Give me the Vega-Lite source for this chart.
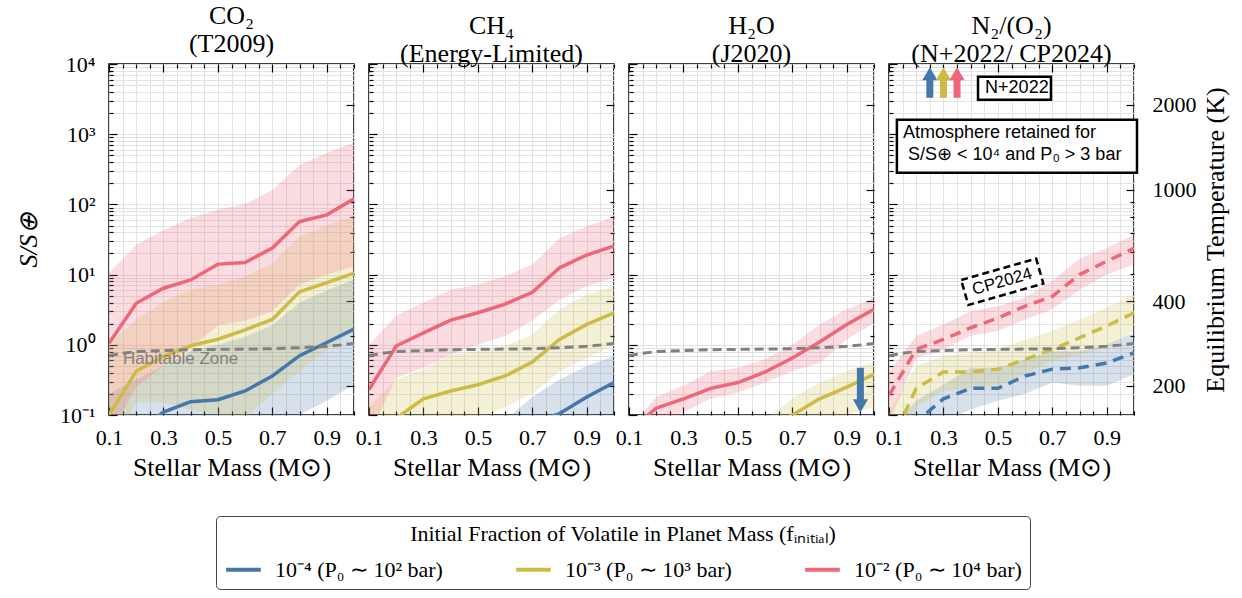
{
"$schema": "https://vega.github.io/schema/vega-lite/v6.json",
"background": "white",
"padding": {"left": 14, "right": 10, "top": 2, "bottom": 5},
"spacing": 15,
"bounds": "flush",
"datasets": {
"co2": [
{"f":"1e-4","m":0.1,"lo":0.03,"mid":0.03,"hi":0.2},{"f":"1e-4","m":0.2,"lo":0.03,"mid":0.055,"hi":0.32},{"f":"1e-4","m":0.3,"lo":0.03,"mid":0.11,"hi":0.5},{"f":"1e-4","m":0.4,"lo":0.03,"mid":0.155,"hi":0.8},{"f":"1e-4","m":0.5,"lo":0.04,"mid":0.165,"hi":1.0},{"f":"1e-4","m":0.6,"lo":0.05,"mid":0.22,"hi":1.3},{"f":"1e-4","m":0.7,"lo":0.07,"mid":0.36,"hi":1.9},{"f":"1e-4","m":0.8,"lo":0.1,"mid":0.7,"hi":4.0},{"f":"1e-4","m":0.9,"lo":0.16,"mid":1.08,"hi":6.0},{"f":"1e-4","m":1.0,"lo":0.27,"mid":1.68,"hi":8.5},
{"f":"1e-3","m":0.1,"lo":0.03,"mid":0.1,"hi":1.0},{"f":"1e-3","m":0.2,"lo":0.15,"mid":0.42,"hi":2.3},{"f":"1e-3","m":0.3,"lo":0.15,"mid":0.68,"hi":4.1},{"f":"1e-3","m":0.4,"lo":0.12,"mid":0.97,"hi":6.1},{"f":"1e-3","m":0.5,"lo":0.1,"mid":1.2,"hi":7.1},{"f":"1e-3","m":0.6,"lo":0.09,"mid":1.63,"hi":9.4},{"f":"1e-3","m":0.7,"lo":0.2,"mid":2.3,"hi":14.5},{"f":"1e-3","m":0.8,"lo":0.42,"mid":5.7,"hi":35},{"f":"1e-3","m":0.9,"lo":0.85,"mid":7.7,"hi":50},{"f":"1e-3","m":1.0,"lo":1.55,"mid":10.5,"hi":69},
{"f":"1e-2","m":0.1,"lo":0.05,"mid":1.05,"hi":10.5},{"f":"1e-2","m":0.2,"lo":0.25,"mid":3.9,"hi":26.6},{"f":"1e-2","m":0.3,"lo":0.5,"mid":6.4,"hi":43},{"f":"1e-2","m":0.4,"lo":0.9,"mid":8.4,"hi":64},{"f":"1e-2","m":0.5,"lo":1.9,"mid":14.1,"hi":84},{"f":"1e-2","m":0.6,"lo":2.2,"mid":14.9,"hi":101},{"f":"1e-2","m":0.7,"lo":3.0,"mid":23.9,"hi":161},{"f":"1e-2","m":0.8,"lo":7.2,"mid":57,"hi":365},{"f":"1e-2","m":0.9,"lo":10,"mid":71,"hi":540},{"f":"1e-2","m":1.0,"lo":13,"mid":120,"hi":760}
],
"ch4": [
{"f":"1e-4","m":0.5,"lo":0.03,"mid":0.03,"hi":0.07},{"f":"1e-4","m":0.6,"lo":0.03,"mid":0.055,"hi":0.085},{"f":"1e-4","m":0.7,"lo":0.03,"mid":0.075,"hi":0.18},{"f":"1e-4","m":0.8,"lo":0.03,"mid":0.105,"hi":0.32},{"f":"1e-4","m":0.9,"lo":0.04,"mid":0.18,"hi":0.5},{"f":"1e-4","m":1.0,"lo":0.06,"mid":0.29,"hi":0.69},
{"f":"1e-3","m":0.1,"lo":0.03,"mid":0.05,"hi":0.13},{"f":"1e-3","m":0.2,"lo":0.03,"mid":0.09,"hi":0.32},{"f":"1e-3","m":0.3,"lo":0.05,"mid":0.17,"hi":0.45},{"f":"1e-3","m":0.4,"lo":0.07,"mid":0.22,"hi":0.73},{"f":"1e-3","m":0.5,"lo":0.09,"mid":0.27,"hi":0.81},{"f":"1e-3","m":0.6,"lo":0.13,"mid":0.36,"hi":0.96},{"f":"1e-3","m":0.7,"lo":0.2,"mid":0.57,"hi":1.4},{"f":"1e-3","m":0.8,"lo":0.42,"mid":1.19,"hi":3.2},{"f":"1e-3","m":0.9,"lo":0.65,"mid":1.95,"hi":5.2},{"f":"1e-3","m":1.0,"lo":1.0,"mid":2.86,"hi":6.9},
{"f":"1e-2","m":0.1,"lo":0.05,"mid":0.23,"hi":1.0},{"f":"1e-2","m":0.2,"lo":0.34,"mid":0.96,"hi":2.6},{"f":"1e-2","m":0.3,"lo":0.47,"mid":1.48,"hi":4.0},{"f":"1e-2","m":0.4,"lo":0.73,"mid":2.25,"hi":6.1},{"f":"1e-2","m":0.5,"lo":1.0,"mid":2.86,"hi":7.2},{"f":"1e-2","m":0.6,"lo":1.33,"mid":3.8,"hi":9.5},{"f":"1e-2","m":0.7,"lo":2.2,"mid":5.6,"hi":13.9},{"f":"1e-2","m":0.8,"lo":4.4,"mid":12.5,"hi":33},{"f":"1e-2","m":0.9,"lo":6.9,"mid":19,"hi":49},{"f":"1e-2","m":1.0,"lo":9.0,"mid":25.6,"hi":66}
],
"h2o": [
{"f":"1e-3","m":0.5,"lo":0.03,"mid":0.03,"hi":0.055},{"f":"1e-3","m":0.6,"lo":0.03,"mid":0.06,"hi":0.085},{"f":"1e-3","m":0.7,"lo":0.04,"mid":0.1,"hi":0.17},{"f":"1e-3","m":0.8,"lo":0.07,"mid":0.17,"hi":0.29},{"f":"1e-3","m":0.9,"lo":0.1,"mid":0.25,"hi":0.42},{"f":"1e-3","m":1.0,"lo":0.13,"mid":0.38,"hi":0.58},
{"f":"1e-2","m":0.1,"lo":0.03,"mid":0.06,"hi":0.065},{"f":"1e-2","m":0.2,"lo":0.07,"mid":0.125,"hi":0.18},{"f":"1e-2","m":0.3,"lo":0.11,"mid":0.17,"hi":0.26},{"f":"1e-2","m":0.4,"lo":0.17,"mid":0.24,"hi":0.42},{"f":"1e-2","m":0.5,"lo":0.21,"mid":0.29,"hi":0.47},{"f":"1e-2","m":0.6,"lo":0.29,"mid":0.41,"hi":0.62},{"f":"1e-2","m":0.7,"lo":0.42,"mid":0.65,"hi":1.0},{"f":"1e-2","m":0.8,"lo":0.55,"mid":1.1,"hi":1.95},{"f":"1e-2","m":0.9,"lo":1.19,"mid":1.95,"hi":3.2},{"f":"1e-2","m":1.0,"lo":2.06,"mid":3.2,"hi":4.6}
],
"n2": [
{"f":"1e-4","m":0.1,"lo":0.03,"mid":0.03,"hi":0.06},{"f":"1e-4","m":0.2,"lo":0.04,"mid":0.08,"hi":0.16},{"f":"1e-4","m":0.3,"lo":0.08,"mid":0.17,"hi":0.27},{"f":"1e-4","m":0.4,"lo":0.12,"mid":0.24,"hi":0.47},{"f":"1e-4","m":0.5,"lo":0.16,"mid":0.24,"hi":0.47},{"f":"1e-4","m":0.6,"lo":0.2,"mid":0.36,"hi":0.62},{"f":"1e-4","m":0.7,"lo":0.29,"mid":0.45,"hi":0.81},{"f":"1e-4","m":0.8,"lo":0.26,"mid":0.47,"hi":0.81},{"f":"1e-4","m":0.9,"lo":0.26,"mid":0.55,"hi":1.0},{"f":"1e-4","m":1.0,"lo":0.38,"mid":0.77,"hi":1.48},
{"f":"1e-3","m":0.1,"lo":0.03,"mid":0.035,"hi":0.11},{"f":"1e-3","m":0.2,"lo":0.13,"mid":0.24,"hi":0.5},{"f":"1e-3","m":0.3,"lo":0.22,"mid":0.41,"hi":0.69},{"f":"1e-3","m":0.4,"lo":0.24,"mid":0.41,"hi":0.77},{"f":"1e-3","m":0.5,"lo":0.27,"mid":0.45,"hi":0.86},{"f":"1e-3","m":0.6,"lo":0.38,"mid":0.62,"hi":1.19},{"f":"1e-3","m":0.7,"lo":0.59,"mid":0.86,"hi":1.57},{"f":"1e-3","m":0.8,"lo":0.73,"mid":1.26,"hi":2.3},{"f":"1e-3","m":0.9,"lo":0.91,"mid":1.85,"hi":3.4},{"f":"1e-3","m":1.0,"lo":1.57,"mid":2.86,"hi":5.2},
{"f":"1e-2","m":0.1,"lo":0.08,"mid":0.19,"hi":0.42},{"f":"1e-2","m":0.2,"lo":0.65,"mid":0.86,"hi":1.33},{"f":"1e-2","m":0.3,"lo":0.86,"mid":1.19,"hi":1.95},{"f":"1e-2","m":0.4,"lo":1.33,"mid":1.75,"hi":3.0},{"f":"1e-2","m":0.5,"lo":1.57,"mid":2.4,"hi":3.55},{"f":"1e-2","m":0.6,"lo":2.3,"mid":3.55,"hi":4.7},{"f":"1e-2","m":0.7,"lo":3.2,"mid":4.9,"hi":8.1},{"f":"1e-2","m":0.8,"lo":6.1,"mid":10,"hi":17},{"f":"1e-2","m":0.9,"lo":10,"mid":15.5,"hi":24},{"f":"1e-2","m":1.0,"lo":13.9,"mid":23.6,"hi":37}
],
"hz": [{"m":0.1,"s":0.7},{"m":0.15,"s":0.76},{"m":0.2,"s":0.8},{"m":0.3,"s":0.83},{"m":0.4,"s":0.85},{"m":0.5,"s":0.86},{"m":0.6,"s":0.87},{"m":0.7,"s":0.88},{"m":0.8,"s":0.91},{"m":0.9,"s":0.95},{"m":1.0,"s":1.04}],
"hzlabel": [{"m":0.151,"s":0.62,"label":"Habitable Zone"}],
"teq": [{"T":200},{"T":2000}],
"h2oarrow": [{"m":0.95,"f":"1e-4","s0":0.47,"s1":0.16,"sh":0.135}],
"n2arrow": [{"m":0.25,"f":"1e-4","s0":3300,"s1":6000,"sh":7250},{"m":0.3,"f":"1e-3","s0":3300,"s1":6000,"sh":7250},{"m":0.35,"f":"1e-2","s0":3300,"s1":6000,"sh":7250}],
"n2box": [{"x1":0.427,"x2":0.695,"y1":3090,"y2":6580},{"x1":0.129,"x2":1.011,"y1":282,"y2":1603}],
"n2text": [{"m":0.453,"s":4500,"label":"N+2022"},{"m":0.151,"s":1050,"label":"Atmosphere retained for"},{"m":0.17,"s":509,"label":"S/S⊕ < 10⁴ and P₀ > 3 bar"}],
"cpbox": [{"m":0.516,"s":7.9,"label":"CP2024"}]
},
"hconcat": [
{
"width": 245, "height": 351,
"title": {"text": ["CO₂", "(T2009)"]},
"layer": [
{"data": {"name": "co2"}, "mark": {"type": "area", "clip": true, "opacity": 0.22},
 "encoding": {
  "x": {"field": "m", "type": "quantitative", "scale": {"domain": [0.1, 1], "nice": false, "zero": false},
   "axis": {"orient": "bottom", "values": [0.1,0.15,0.2,0.25,0.3,0.35,0.4,0.45,0.5,0.55,0.6,0.65,0.7,0.75,0.8,0.85,0.9,0.95,1],
    "labelExpr": "indexof([0.1,0.3,0.5,0.7,0.9], datum.value) >= 0 ? format(datum.value, '.1f') : ''",
    "tickSize": {"condition": {"test": "indexof([0.1,0.3,0.5,0.7,0.9], datum.value) >= 0", "value": -8}, "value": -4},
    "grid": true, "labelPadding": 20, "title": "Stellar Mass (M⊙)", "titleFontSize": 26, "titlePadding": 2}},
  "y": {"field": "lo", "type": "quantitative", "scale": {"type": "log", "domain": [0.1, 10000], "nice": false},
   "axis": {"orient": "left", "values": [0.1,0.2,0.3,0.4,0.5,0.6,0.7,0.8,0.9,1,2,3,4,5,6,7,8,9,10,20,30,40,50,60,70,80,90,100,200,300,400,500,600,700,800,900,1000,2000,3000,4000,5000,6000,7000,8000,9000,10000],
    "labelExpr": "datum.value == 0.1 ? '10⁻¹' : datum.value == 1 ? '10⁰' : datum.value == 10 ? '10¹' : datum.value == 100 ? '10²' : datum.value == 1000 ? '10³' : datum.value == 10000 ? '10⁴' : ''",
    "tickSize": {"condition": {"test": "indexof([0.1,1,10,100,1000,10000], datum.value) >= 0", "value": -8}, "value": -4},
    "grid": true, "labelPadding": 22, "title": "S/S⊕", "titleFontStyle": "italic", "titleFontSize": 26, "titlePadding": 18}},
  "y2": {"field": "hi"},
  "fill": {"field": "f", "type": "nominal", "scale": {"domain": ["1e-2","1e-3","1e-4"], "range": ["#EE6677","#CCBB44","#4477AA"]}, "legend": null}
 }},
{"data": {"name": "co2"}, "mark": {"type": "line", "clip": true, "strokeWidth": 3.5},
 "encoding": {
  "x": {"field": "m", "type": "quantitative", "scale": {"domain": [0.1, 1], "nice": false, "zero": false}, "axis": null},
  "y": {"field": "mid", "type": "quantitative", "scale": {"type": "log", "domain": [0.1, 10000], "nice": false}, "axis": null},
  "color": {"field": "f", "type": "nominal", "scale": {"domain": ["1e-4","1e-3","1e-2"], "range": ["#4477AA","#CCBB44","#EE6677"]},
   "legend": {"orient": "none", "legendX": 107, "legendY": 452, "direction": "horizontal", "columns": 3,
    "title": "Initial Fraction of Volatile in Planet Mass (fᵢₙᵢₜᵢₐₗ)",
    "labelExpr": "datum.value == '1e-4' ? '10⁻⁴ (P₀ ∼ 10² bar)' : datum.value == '1e-3' ? '10⁻³ (P₀ ∼ 10³ bar)' : '10⁻² (P₀ ∼ 10⁴ bar)'"}}
 }},
{"data": {"name": "hz"}, "mark": {"type": "line", "clip": true, "color": "#808080", "strokeWidth": 3, "strokeDash": [9, 5]},
 "encoding": {
  "x": {"field": "m", "type": "quantitative", "scale": {"domain": [0.1, 1], "nice": false, "zero": false},
   "axis": {"orient": "top", "values": [0.1,0.15,0.2,0.25,0.3,0.35,0.4,0.45,0.5,0.55,0.6,0.65,0.7,0.75,0.8,0.85,0.9,0.95,1], "labels": false, "grid": false, "title": null,
    "tickSize": {"condition": {"test": "indexof([0.1,0.3,0.5,0.7,0.9], datum.value) >= 0", "value": -8}, "value": -4}}},
  "y": {"field": "s", "type": "quantitative", "scale": {"type": "log", "domain": [0.1, 10000], "nice": false}, "axis": null}
 }},
{"data": {"name": "hzlabel"}, "mark": {"type": "text", "align": "left", "baseline": "middle", "font": "Liberation Sans", "fontSize": 17, "color": "#808080"},
 "encoding": {
  "x": {"field": "m", "type": "quantitative", "scale": {"domain": [0.1, 1], "nice": false, "zero": false}, "axis": null},
  "y": {"field": "s", "type": "quantitative", "scale": {"type": "log", "domain": [0.1, 10000], "nice": false}, "axis": null},
  "text": {"field": "label"}
 }},
{"data": {"name": "teq"}, "mark": {"type": "point", "opacity": 0},
 "encoding": {
  "y": {"field": "T", "type": "quantitative", "scale": {"type": "log", "domain": [157.4, 2799], "nice": false},
   "axis": {"orient": "right", "values": [200,300,400,500,600,700,800,900,1000,2000], "labels": false, "grid": false, "title": null,
    "tickSize": {"condition": {"test": "indexof([200,400,1000,2000], datum.value) >= 0", "value": -8}, "value": -4}}}
 }}
],
"resolve": {"scale": {"y": "independent"}, "axis": {"x": "independent", "y": "independent"}}
},
{
"width": 245, "height": 351,
"title": {"text": ["CH₄", "(Energy-Limited)"]},
"layer": [
{"data": {"name": "ch4"}, "mark": {"type": "area", "clip": true, "opacity": 0.22},
 "encoding": {
  "x": {"field": "m", "type": "quantitative", "scale": {"domain": [0.1, 1], "nice": false, "zero": false},
   "axis": {"orient": "bottom", "values": [0.1,0.15,0.2,0.25,0.3,0.35,0.4,0.45,0.5,0.55,0.6,0.65,0.7,0.75,0.8,0.85,0.9,0.95,1],
    "labelExpr": "indexof([0.1,0.3,0.5,0.7,0.9], datum.value) >= 0 ? format(datum.value, '.1f') : ''",
    "tickSize": {"condition": {"test": "indexof([0.1,0.3,0.5,0.7,0.9], datum.value) >= 0", "value": -8}, "value": -4},
    "grid": true, "labelPadding": 20, "title": "Stellar Mass (M⊙)", "titleFontSize": 26, "titlePadding": 2}},
  "y": {"field": "lo", "type": "quantitative", "scale": {"type": "log", "domain": [0.1, 10000], "nice": false},
   "axis": {"orient": "left", "values": [0.1,0.2,0.3,0.4,0.5,0.6,0.7,0.8,0.9,1,2,3,4,5,6,7,8,9,10,20,30,40,50,60,70,80,90,100,200,300,400,500,600,700,800,900,1000,2000,3000,4000,5000,6000,7000,8000,9000,10000],
    "labels": false, "title": null,
    "tickSize": {"condition": {"test": "indexof([0.1,1,10,100,1000,10000], datum.value) >= 0", "value": -8}, "value": -4},
    "grid": true}},
  "y2": {"field": "hi"},
  "fill": {"field": "f", "type": "nominal", "scale": {"domain": ["1e-2","1e-3","1e-4"], "range": ["#EE6677","#CCBB44","#4477AA"]}, "legend": null}
 }},
{"data": {"name": "ch4"}, "mark": {"type": "line", "clip": true, "strokeWidth": 3.5},
 "encoding": {
  "x": {"field": "m", "type": "quantitative", "scale": {"domain": [0.1, 1], "nice": false, "zero": false}, "axis": null},
  "y": {"field": "mid", "type": "quantitative", "scale": {"type": "log", "domain": [0.1, 10000], "nice": false}, "axis": null},
  "stroke": {"field": "f", "type": "nominal", "scale": {"domain": ["1e-2","1e-3","1e-4"], "range": ["#EE6677","#CCBB44","#4477AA"]}, "legend": null}
 }},
{"data": {"name": "hz"}, "mark": {"type": "line", "clip": true, "color": "#808080", "strokeWidth": 3, "strokeDash": [9, 5]},
 "encoding": {
  "x": {"field": "m", "type": "quantitative", "scale": {"domain": [0.1, 1], "nice": false, "zero": false},
   "axis": {"orient": "top", "values": [0.1,0.15,0.2,0.25,0.3,0.35,0.4,0.45,0.5,0.55,0.6,0.65,0.7,0.75,0.8,0.85,0.9,0.95,1], "labels": false, "grid": false, "title": null,
    "tickSize": {"condition": {"test": "indexof([0.1,0.3,0.5,0.7,0.9], datum.value) >= 0", "value": -8}, "value": -4}}},
  "y": {"field": "s", "type": "quantitative", "scale": {"type": "log", "domain": [0.1, 10000], "nice": false}, "axis": null}
 }},
{"data": {"name": "teq"}, "mark": {"type": "point", "opacity": 0},
 "encoding": {
  "y": {"field": "T", "type": "quantitative", "scale": {"type": "log", "domain": [157.4, 2799], "nice": false},
   "axis": {"orient": "right", "values": [200,300,400,500,600,700,800,900,1000,2000], "labels": false, "grid": false, "title": null,
    "tickSize": {"condition": {"test": "indexof([200,400,1000,2000], datum.value) >= 0", "value": -8}, "value": -4}}}
 }}
],
"resolve": {"scale": {"y": "independent"}, "axis": {"x": "independent", "y": "independent"}}
},
{
"width": 245, "height": 351,
"title": {"text": ["H₂O", "(J2020)"]},
"layer": [
{"data": {"name": "h2o"}, "mark": {"type": "area", "clip": true, "opacity": 0.22},
 "encoding": {
  "x": {"field": "m", "type": "quantitative", "scale": {"domain": [0.1, 1], "nice": false, "zero": false},
   "axis": {"orient": "bottom", "values": [0.1,0.15,0.2,0.25,0.3,0.35,0.4,0.45,0.5,0.55,0.6,0.65,0.7,0.75,0.8,0.85,0.9,0.95,1],
    "labelExpr": "indexof([0.1,0.3,0.5,0.7,0.9], datum.value) >= 0 ? format(datum.value, '.1f') : ''",
    "tickSize": {"condition": {"test": "indexof([0.1,0.3,0.5,0.7,0.9], datum.value) >= 0", "value": -8}, "value": -4},
    "grid": true, "labelPadding": 20, "title": "Stellar Mass (M⊙)", "titleFontSize": 26, "titlePadding": 2}},
  "y": {"field": "lo", "type": "quantitative", "scale": {"type": "log", "domain": [0.1, 10000], "nice": false},
   "axis": {"orient": "left", "values": [0.1,0.2,0.3,0.4,0.5,0.6,0.7,0.8,0.9,1,2,3,4,5,6,7,8,9,10,20,30,40,50,60,70,80,90,100,200,300,400,500,600,700,800,900,1000,2000,3000,4000,5000,6000,7000,8000,9000,10000],
    "labels": false, "title": null,
    "tickSize": {"condition": {"test": "indexof([0.1,1,10,100,1000,10000], datum.value) >= 0", "value": -8}, "value": -4},
    "grid": true}},
  "y2": {"field": "hi"},
  "fill": {"field": "f", "type": "nominal", "scale": {"domain": ["1e-2","1e-3","1e-4"], "range": ["#EE6677","#CCBB44","#4477AA"]}, "legend": null}
 }},
{"data": {"name": "h2o"}, "mark": {"type": "line", "clip": true, "strokeWidth": 3.5},
 "encoding": {
  "x": {"field": "m", "type": "quantitative", "scale": {"domain": [0.1, 1], "nice": false, "zero": false}, "axis": null},
  "y": {"field": "mid", "type": "quantitative", "scale": {"type": "log", "domain": [0.1, 10000], "nice": false}, "axis": null},
  "stroke": {"field": "f", "type": "nominal", "scale": {"domain": ["1e-2","1e-3","1e-4"], "range": ["#EE6677","#CCBB44","#4477AA"]}, "legend": null}
 }},
{"data": {"name": "hz"}, "mark": {"type": "line", "clip": true, "color": "#808080", "strokeWidth": 3, "strokeDash": [9, 5]},
 "encoding": {
  "x": {"field": "m", "type": "quantitative", "scale": {"domain": [0.1, 1], "nice": false, "zero": false},
   "axis": {"orient": "top", "values": [0.1,0.15,0.2,0.25,0.3,0.35,0.4,0.45,0.5,0.55,0.6,0.65,0.7,0.75,0.8,0.85,0.9,0.95,1], "labels": false, "grid": false, "title": null,
    "tickSize": {"condition": {"test": "indexof([0.1,0.3,0.5,0.7,0.9], datum.value) >= 0", "value": -8}, "value": -4}}},
  "y": {"field": "s", "type": "quantitative", "scale": {"type": "log", "domain": [0.1, 10000], "nice": false}, "axis": null}
 }},
{"data": {"name": "h2oarrow"}, "mark": {"type": "rule", "strokeWidth": 7},
 "encoding": {
  "x": {"field": "m", "type": "quantitative", "scale": {"domain": [0.1, 1], "nice": false, "zero": false}, "axis": null},
  "y": {"field": "s0", "type": "quantitative", "scale": {"type": "log", "domain": [0.1, 10000], "nice": false}, "axis": null},
  "y2": {"field": "s1"},
  "stroke": {"field": "f", "type": "nominal", "scale": {"domain": ["1e-2","1e-3","1e-4"], "range": ["#EE6677","#CCBB44","#4477AA"]}, "legend": null}
 }},
{"data": {"name": "h2oarrow"}, "mark": {"type": "point", "shape": "triangle-down", "filled": true, "opacity": 1, "size": 230},
 "encoding": {
  "x": {"field": "m", "type": "quantitative", "scale": {"domain": [0.1, 1], "nice": false, "zero": false}, "axis": null},
  "y": {"field": "sh", "type": "quantitative", "scale": {"type": "log", "domain": [0.1, 10000], "nice": false}, "axis": null},
  "fill": {"field": "f", "type": "nominal", "scale": {"domain": ["1e-2","1e-3","1e-4"], "range": ["#EE6677","#CCBB44","#4477AA"]}, "legend": null}
 }},
{"data": {"name": "teq"}, "mark": {"type": "point", "opacity": 0},
 "encoding": {
  "y": {"field": "T", "type": "quantitative", "scale": {"type": "log", "domain": [157.4, 2799], "nice": false},
   "axis": {"orient": "right", "values": [200,300,400,500,600,700,800,900,1000,2000], "labels": false, "grid": false, "title": null,
    "tickSize": {"condition": {"test": "indexof([200,400,1000,2000], datum.value) >= 0", "value": -8}, "value": -4}}}
 }}
],
"resolve": {"scale": {"y": "independent"}, "axis": {"x": "independent", "y": "independent"}}
},
{
"width": 245, "height": 351,
"title": {"text": ["N₂/(O₂)", "(N+2022/ CP2024)"]},
"layer": [
{"data": {"name": "n2"}, "mark": {"type": "area", "clip": true, "opacity": 0.22},
 "encoding": {
  "x": {"field": "m", "type": "quantitative", "scale": {"domain": [0.1, 1], "nice": false, "zero": false},
   "axis": {"orient": "bottom", "values": [0.1,0.15,0.2,0.25,0.3,0.35,0.4,0.45,0.5,0.55,0.6,0.65,0.7,0.75,0.8,0.85,0.9,0.95,1],
    "labelExpr": "indexof([0.1,0.3,0.5,0.7,0.9], datum.value) >= 0 ? format(datum.value, '.1f') : ''",
    "tickSize": {"condition": {"test": "indexof([0.1,0.3,0.5,0.7,0.9], datum.value) >= 0", "value": -8}, "value": -4},
    "grid": true, "labelPadding": 20, "title": "Stellar Mass (M⊙)", "titleFontSize": 26, "titlePadding": 2}},
  "y": {"field": "lo", "type": "quantitative", "scale": {"type": "log", "domain": [0.1, 10000], "nice": false},
   "axis": {"orient": "left", "values": [0.1,0.2,0.3,0.4,0.5,0.6,0.7,0.8,0.9,1,2,3,4,5,6,7,8,9,10,20,30,40,50,60,70,80,90,100,200,300,400,500,600,700,800,900,1000,2000,3000,4000,5000,6000,7000,8000,9000,10000],
    "labels": false, "title": null,
    "tickSize": {"condition": {"test": "indexof([0.1,1,10,100,1000,10000], datum.value) >= 0", "value": -8}, "value": -4},
    "grid": true}},
  "y2": {"field": "hi"},
  "fill": {"field": "f", "type": "nominal", "scale": {"domain": ["1e-2","1e-3","1e-4"], "range": ["#EE6677","#CCBB44","#4477AA"]}, "legend": null}
 }},
{"data": {"name": "n2"}, "mark": {"type": "line", "clip": true, "strokeWidth": 3.5, "strokeDash": [11, 7]},
 "encoding": {
  "x": {"field": "m", "type": "quantitative", "scale": {"domain": [0.1, 1], "nice": false, "zero": false}, "axis": null},
  "y": {"field": "mid", "type": "quantitative", "scale": {"type": "log", "domain": [0.1, 10000], "nice": false}, "axis": null},
  "stroke": {"field": "f", "type": "nominal", "scale": {"domain": ["1e-2","1e-3","1e-4"], "range": ["#EE6677","#CCBB44","#4477AA"]}, "legend": null}
 }},
{"data": {"name": "hz"}, "mark": {"type": "line", "clip": true, "color": "#808080", "strokeWidth": 3, "strokeDash": [9, 5]},
 "encoding": {
  "x": {"field": "m", "type": "quantitative", "scale": {"domain": [0.1, 1], "nice": false, "zero": false},
   "axis": {"orient": "top", "values": [0.1,0.15,0.2,0.25,0.3,0.35,0.4,0.45,0.5,0.55,0.6,0.65,0.7,0.75,0.8,0.85,0.9,0.95,1], "labels": false, "grid": false, "title": null,
    "tickSize": {"condition": {"test": "indexof([0.1,0.3,0.5,0.7,0.9], datum.value) >= 0", "value": -8}, "value": -4}}},
  "y": {"field": "s", "type": "quantitative", "scale": {"type": "log", "domain": [0.1, 10000], "nice": false}, "axis": null}
 }},
{"data": {"name": "n2arrow"}, "mark": {"type": "rule", "strokeWidth": 7},
 "encoding": {
  "x": {"field": "m", "type": "quantitative", "scale": {"domain": [0.1, 1], "nice": false, "zero": false}, "axis": null},
  "y": {"field": "s0", "type": "quantitative", "scale": {"type": "log", "domain": [0.1, 10000], "nice": false}, "axis": null},
  "y2": {"field": "s1"},
  "stroke": {"field": "f", "type": "nominal", "scale": {"domain": ["1e-2","1e-3","1e-4"], "range": ["#EE6677","#CCBB44","#4477AA"]}, "legend": null}
 }},
{"data": {"name": "n2arrow"}, "mark": {"type": "point", "shape": "triangle-up", "filled": true, "opacity": 1, "size": 230},
 "encoding": {
  "x": {"field": "m", "type": "quantitative", "scale": {"domain": [0.1, 1], "nice": false, "zero": false}, "axis": null},
  "y": {"field": "sh", "type": "quantitative", "scale": {"type": "log", "domain": [0.1, 10000], "nice": false}, "axis": null},
  "fill": {"field": "f", "type": "nominal", "scale": {"domain": ["1e-2","1e-3","1e-4"], "range": ["#EE6677","#CCBB44","#4477AA"]}, "legend": null}
 }},
{"data": {"name": "n2box"}, "mark": {"type": "rect", "fill": "white", "stroke": "black", "strokeWidth": 2.5},
 "encoding": {
  "x": {"field": "x1", "type": "quantitative", "scale": {"domain": [0.1, 1], "nice": false, "zero": false}, "axis": null},
  "x2": {"field": "x2"},
  "y": {"field": "y1", "type": "quantitative", "scale": {"type": "log", "domain": [0.1, 10000], "nice": false}, "axis": null},
  "y2": {"field": "y2"}
 }},
{"data": {"name": "cpbox"}, "mark": {"type": "point", "shape": "M-1,-0.333L1,-0.333L1,0.333L-1,0.333Z", "size": 6084, "angle": -16, "filled": true, "fill": "white", "stroke": "black", "strokeWidth": 2.5, "strokeDash": [7, 4], "opacity": 1},
 "encoding": {
  "x": {"field": "m", "type": "quantitative", "scale": {"domain": [0.1, 1], "nice": false, "zero": false}, "axis": null},
  "y": {"field": "s", "type": "quantitative", "scale": {"type": "log", "domain": [0.1, 10000], "nice": false}, "axis": null}
 }},
{"data": {"name": "cpbox"}, "mark": {"type": "text", "angle": -16, "align": "center", "baseline": "middle", "font": "Liberation Sans", "fontSize": 17, "color": "black"},
 "encoding": {
  "x": {"field": "m", "type": "quantitative", "scale": {"domain": [0.1, 1], "nice": false, "zero": false}, "axis": null},
  "y": {"field": "s", "type": "quantitative", "scale": {"type": "log", "domain": [0.1, 10000], "nice": false}, "axis": null},
  "text": {"field": "label"}
 }},
{"data": {"name": "n2text"}, "mark": {"type": "text", "align": "left", "baseline": "middle", "font": "Liberation Sans", "fontSize": 18, "color": "black"},
 "encoding": {
  "x": {"field": "m", "type": "quantitative", "scale": {"domain": [0.1, 1], "nice": false, "zero": false}, "axis": null},
  "y": {"field": "s", "type": "quantitative", "scale": {"type": "log", "domain": [0.1, 10000], "nice": false}, "axis": null},
  "text": {"field": "label"}
 }},
{"data": {"name": "teq"}, "mark": {"type": "point", "opacity": 0},
 "encoding": {
  "y": {"field": "T", "type": "quantitative", "scale": {"type": "log", "domain": [157.4, 2799], "nice": false},
   "axis": {"orient": "right", "values": [200,300,400,500,600,700,800,900,1000,2000],
    "labelExpr": "indexof([200,400,1000,2000], datum.value) >= 0 ? format(datum.value, 'd') : ''",
    "labelPadding": 26, "grid": false, "title": "Equilibrium Temperature (K)", "titleAngle": 270, "titleBaseline": "top", "titleFontSize": 26, "titlePadding": 6,
    "tickSize": {"condition": {"test": "indexof([200,400,1000,2000], datum.value) >= 0", "value": -8}, "value": -4}}}
 }}
],
"resolve": {"scale": {"y": "independent"}, "axis": {"x": "independent", "y": "independent"}}
}
],
"config": {
 "view": {"stroke": "#000", "strokeWidth": 1.5},
 "title": {"font": "Liberation Serif", "fontSize": 26, "fontWeight": "normal", "lineHeight": 28, "offset": -4, "color": "#000"},
 "legend": {"columnPadding": 65,
  "titleAnchor": "middle", "titleOrient": "top",
  "titleFont": "Liberation Serif", "titleFontSize": 22, "titleFontWeight": "normal", "titleColor": "#000", "titlePadding": 4, "titleLimit": 800,
  "labelFont": "Liberation Serif", "labelFontSize": 22, "labelColor": "#000", "labelLimit": 400, "labelOffset": 12,
  "symbolType": "stroke", "symbolStrokeWidth": 4, "symbolSize": 1200,
  "strokeColor": "#444", "fillColor": "white", "padding": 8, "cornerRadius": 4}
 ,
 "axis": {"labelFont": "Liberation Serif", "labelFontSize": 22, "labelColor": "#000", "titleFont": "Liberation Serif", "titleColor": "#000", "titleFontWeight": "normal",
  "tickColor": "#000", "tickWidth": 1.2, "domain": false, "gridColor": "#e2e2e2", "gridWidth": 1, "labelOverlap": false, "labelBound": false, "labelFlush": false}
}
}
